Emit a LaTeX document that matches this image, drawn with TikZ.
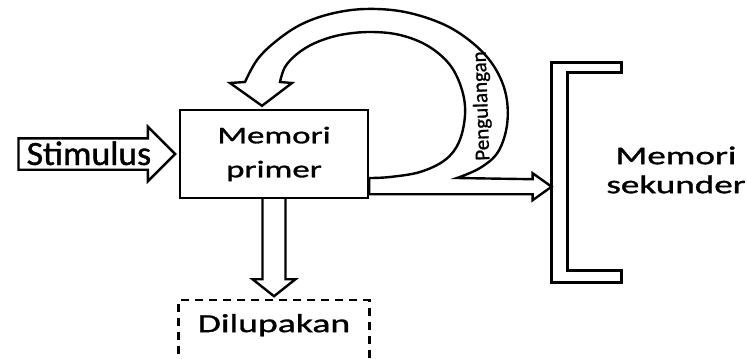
\documentclass[tikz,border=0pt]{standalone}
\usepackage{fontspec}
\setmainfont[FakeStretch=1.45, FakeBold=1.2]{Carlito}
\newfontfamily\stimfont[FakeStretch=1.05, FakeBold=1.2]{Carlito}
\newfontfamily\loopfont[FakeBold=1]{Carlito}
\usepackage{tikz}
\usetikzlibrary{shapes.arrows, positioning}

\begin{document}
\begin{tikzpicture}[x=0.5pt, y=-0.5pt]
        \tikzstyle{memory} = [rectangle, minimum width=94pt, minimum height=44pt, text centered, align=center, draw=black, line width=1.2pt, font=\fontsize{12}{17}\selectfont]
        \tikzstyle{input} = [single arrow, single arrow tip angle=90, single arrow head extend=5.75pt, draw=black, line width=1.2pt, fill=white, inner xsep=3.5pt, inner ysep=1.75pt, text height=11pt, text depth=0pt, font=\stimfont\fontsize{17}{17}\selectfont]
        \tikzstyle{forgot} = [rectangle, minimum width=95.5pt, text height=8.4pt, text depth=8pt, inner ysep=7.5pt, draw=black, line width=1.1pt, dash pattern=on 4pt off 3pt, font=\fontsize{13}{13}\selectfont]
        \tikzstyle{hollow} = [draw=black, line width=1.2pt, fill=white, line join=miter]

        \useasboundingbox (0,0) rectangle (747,358);

        \node (primer) [memory] at (274,154) {Memori\\primer};
        \node (stimulus) [input, left=1pt of primer] {Stimulus};
        \node (lupa) [forgot, below=50pt of primer] {Dilupakan};
        \node (kurung) [minimum width=34.5pt, minimum height=109.5pt, inner sep=0pt] at (586.5,172.5) {};
        \node (sekunder) [align=center, font=\fontsize{12.8}{14.5}\selectfont] at (676,170) {Memori\\sekunder};

        % bracket for the secondary store
        \draw [hollow] (kurung.north east) -- (kurung.north west) -- (kurung.south west) -- (kurung.south east)
            -- ([yshift=6pt]kurung.south east) -- ([xshift=8pt, yshift=6pt]kurung.south west)
            -- ([xshift=8pt, yshift=-5pt]kurung.north west) -- ([yshift=-5pt]kurung.north east) -- cycle;

        % forgotten
        \draw [hollow] ([xshift=-5.75pt]primer.south) -- ([xshift=-5.75pt, yshift=10pt]lupa.north)
            -- ([xshift=-10.75pt, yshift=10pt]lupa.north) -- ([yshift=1.5pt]lupa.north)
            -- ([xshift=10.75pt, yshift=10pt]lupa.north) -- ([xshift=5.75pt, yshift=10pt]lupa.north)
            -- ([xshift=5.75pt]primer.south);

        % out to secondary memory, with the rehearsal loop back
        \coordinate (out) at ([yshift=6.25pt]primer.south east);
        \coordinate (tip) at (out -| kurung.west);
        \coordinate (back) at ([xshift=-6pt, yshift=1.5pt]primer.north);
        \draw [hollow] ([yshift=-3.75pt]out) -- ([xshift=-9.5pt, yshift=-3.75pt]tip)
            -- ([xshift=-9.5pt, yshift=-6.75pt]tip) -- (tip) -- ([xshift=-9.5pt, yshift=6.75pt]tip)
            -- ([xshift=-9.5pt, yshift=3.75pt]tip) -- (457,178)
            -- plot[smooth, tension=0.6] coordinates {(457,178) (480,168) (498,152) (507,125) (506,95) (495,68) (475,45) (445,25) (405,12) (365,9) (330,14) (300,25) (275,42) (257,60) (245,82)}
            -- (230,83) -- (back) -- (292,83) -- (280,82)
            -- plot[smooth, tension=0.6] coordinates {(280,82) (285,67) (297,54) (315,43) (340,35) (370,32) (400,35) (428,46) (450,65) (462,90) (465,115) (459,142) (445,160) (420,172) (390,177) (370,178)}
            -- ([yshift=3.75pt]out) -- cycle;
        \node (ulang) [rotate=92, font=\loopfont\fontsize{10.5}{10.5}\selectfont] at (482,106) {Pengulangan};
\end{tikzpicture}
\end{document}
